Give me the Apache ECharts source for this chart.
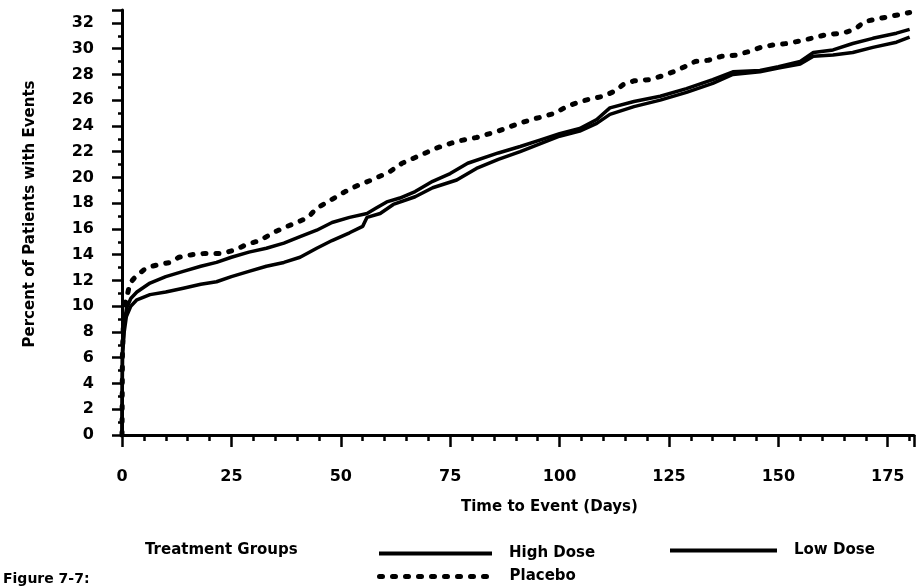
<!DOCTYPE html>
<html>
<head>
<meta charset="utf-8">
<script src="https://cdn.jsdelivr.net/npm/echarts@6/dist/echarts.min.js"></script>
<style>
html,body{margin:0;padding:0;background:#fff;}
#chart{width:918px;height:587px;}
</style>
</head>
<body>
<div id="chart"></div>
<script>
// Days and cumulative percent of patients with events
const highDose = [[0,0],[0.1,6.5],[0.5,8.5],[1,9.8],[2,10.6],[3.4,11.1],[6.4,11.8],[10,12.3],[14,12.7],[18,13.1],[21.6,13.4],[25,13.8],[29,14.2],[33,14.5],[37,14.9],[40.7,15.4],[44.5,15.9],[48,16.5],[52,16.9],[56,17.2],[58,17.6],[60.5,18.1],[63.5,18.4],[67,18.9],[71,19.7],[75,20.3],[79,21.1],[86,21.9],[91,22.4],[95.5,22.9],[100,23.4],[104.6,23.8],[108.5,24.5],[111.5,25.4],[117,25.9],[123,26.3],[129,26.9],[135,27.6],[139.6,28.2],[145.8,28.3],[150,28.6],[155,29.0],[158,29.7],[162.5,29.9],[167,30.4],[171.6,30.8],[177,31.2],[180,31.5]];
const lowDose = [[0,0],[0.1,6.0],[0.5,8.0],[1,9.2],[2,10.0],[3.4,10.5],[6.4,10.9],[10,11.1],[14,11.4],[18,11.7],[21.6,11.9],[25,12.3],[29,12.7],[33,13.1],[37,13.4],[40.7,13.8],[44.5,14.5],[48,15.1],[52,15.7],[55,16.2],[56,16.9],[59,17.2],[62,17.9],[67,18.5],[71,19.2],[76.5,19.8],[81,20.7],[86,21.4],[91,22.0],[95.5,22.6],[100,23.2],[104.6,23.6],[108.5,24.2],[111.5,24.9],[117,25.5],[123,26.0],[129,26.6],[135,27.3],[139.6,28.0],[145.8,28.2],[150,28.5],[155,28.8],[158,29.4],[162.5,29.5],[167,29.7],[171.6,30.1],[177,30.5],[180,30.9]];
const placebo = [[0,0],[0.1,6.5],[0.3,8.4],[0.5,9.3],[0.8,10.3],[1.3,11.0],[1.8,11.8],[3.4,12.4],[5.7,13.0],[8,13.2],[11,13.4],[13,13.8],[16,14.0],[19,14.1],[23,14.1],[26,14.4],[28.5,14.8],[31.5,15.1],[34.5,15.7],[37,16.1],[40,16.5],[42.5,16.9],[44.5,17.6],[47,18.1],[49,18.5],[51,18.9],[54,19.4],[57,19.8],[61,20.4],[64,21.1],[68,21.7],[72,22.3],[76.5,22.8],[81,23.1],[86,23.6],[90,24.1],[93.6,24.5],[96,24.7],[99,25.0],[101.6,25.5],[104,25.8],[107,26.1],[110,26.3],[112.6,26.7],[114.5,27.2],[117,27.5],[120.6,27.6],[123.6,27.9],[126.8,28.3],[128.6,28.6],[131,29.0],[134,29.1],[137,29.4],[140.5,29.5],[143.5,29.8],[146,30.1],[149,30.3],[152,30.4],[155,30.6],[158.8,30.9],[161,31.1],[164.7,31.2],[167.5,31.5],[169.7,32.1],[172.5,32.3],[175.5,32.5],[178.5,32.7],[180,32.8]];
const seriesNames = ['High Dose', 'Low Dose', 'Placebo'];
const xTickValues = [0, 25, 50, 75, 100, 125, 150, 175];
const yTickValues = [0, 2, 4, 6, 8, 10, 12, 14, 16, 18, 20, 22, 24, 26, 28, 30, 32];
const xTitle = 'Time to Event (Days)';
const yTitle = 'Percent of Patients with Events';
const legendTitle = 'Treatment Groups';
const figureLabel = 'Figure 7-7:';

const FONT = 'DejaVu Sans';
const chart = echarts.init(document.getElementById('chart'), null, {renderer: 'canvas'});
const txt = {fontFamily: FONT, fontWeight: 'bold', color: '#000'};

const legendBase = {
  orient: 'horizontal', padding: 0, itemWidth: 113, itemHeight: 12, itemGap: 18,
  textStyle: Object.assign({fontSize: 15, padding: [0, 0, 0, 12]}, txt), selectedMode: false,
  itemStyle: {opacity: 0, borderWidth: 0},
  lineStyle: {width: 4}
};

chart.setOption({
  backgroundColor: '#fff',
  animation: false,
  grid: {left: 122, top: 10, width: 792, height: 425, containLabel: false},
  xAxis: {
    type: 'value', min: 0, max: 181, interval: 25, offset: 8,
    axisLine: {lineStyle: {color: '#000', width: 3}},
    axisTick: {show: true, inside: false, length: 12, lineStyle: {color: '#000', width: 2.5}},
    minorTick: {show: true, splitNumber: 5, length: 6, lineStyle: {color: '#000', width: 2.5}},
    splitLine: {show: false}, minorSplitLine: {show: false},
    axisLabel: Object.assign({fontSize: 16, margin: 26,
      formatter: v => xTickValues.indexOf(v) >= 0 ? String(v) : ''}, txt)
  },
  yAxis: {
    type: 'value', min: 0, max: 33, interval: 2, offset: 16,
    axisLine: {lineStyle: {color: '#000', width: 3}},
    axisTick: {show: true, inside: false, length: 10, lineStyle: {color: '#000', width: 2.5}},
    minorTick: {show: true, splitNumber: 2, length: 4, lineStyle: {color: '#000', width: 2.5}},
    splitLine: {show: false}, minorSplitLine: {show: false},
    axisLabel: Object.assign({fontSize: 16, margin: 12,
      formatter: v => yTickValues.indexOf(v) >= 0 ? String(v) : ''}, txt)
  },
  legend: [
    Object.assign({}, legendBase, {data: [seriesNames[0]], left: 377, top: 546}),
    Object.assign({}, legendBase, {data: [seriesNames[1]], left: 668, top: 543, itemWidth: 107}),
    Object.assign({}, legendBase, {data: [seriesNames[2]], left: 377, top: 569,
      lineStyle: {width: 5}})
  ],
  graphic: [
    {type: 'text', left: 145, top: 543, style: {text: legendTitle, font: 'bold 15px "DejaVu Sans"', fill: '#000'}},
    {type: 'text', left: 3, top: 572, style: {text: figureLabel, font: 'bold 14px "DejaVu Sans"', fill: '#000'}},
    {type: 'text', left: 461, top: 500, style: {text: xTitle, font: 'bold 15px "DejaVu Sans"', fill: '#000'}},
    {type: 'text', x: 30, y: 214, rotation: Math.PI / 2,
      style: {text: yTitle, font: 'bold 15px "DejaVu Sans"', fill: '#000', align: 'center', verticalAlign: 'middle'}}
  ],
  series: [
    {name: seriesNames[0], type: 'line', data: highDose, symbol: 'none', clip: false,
      lineStyle: {color: '#000', width: 3.5}, itemStyle: {color: '#000'}},
    {name: seriesNames[1], type: 'line', data: lowDose, symbol: 'none', clip: false,
      lineStyle: {color: '#000', width: 3.5}, itemStyle: {color: '#000'}},
    {name: seriesNames[2], type: 'line', data: placebo, symbol: 'none', clip: false,
      lineStyle: {color: '#000', width: 5, type: [3, 10], cap: 'round'}, itemStyle: {color: '#000'}}
  ]
});
</script>
</body>
</html>
